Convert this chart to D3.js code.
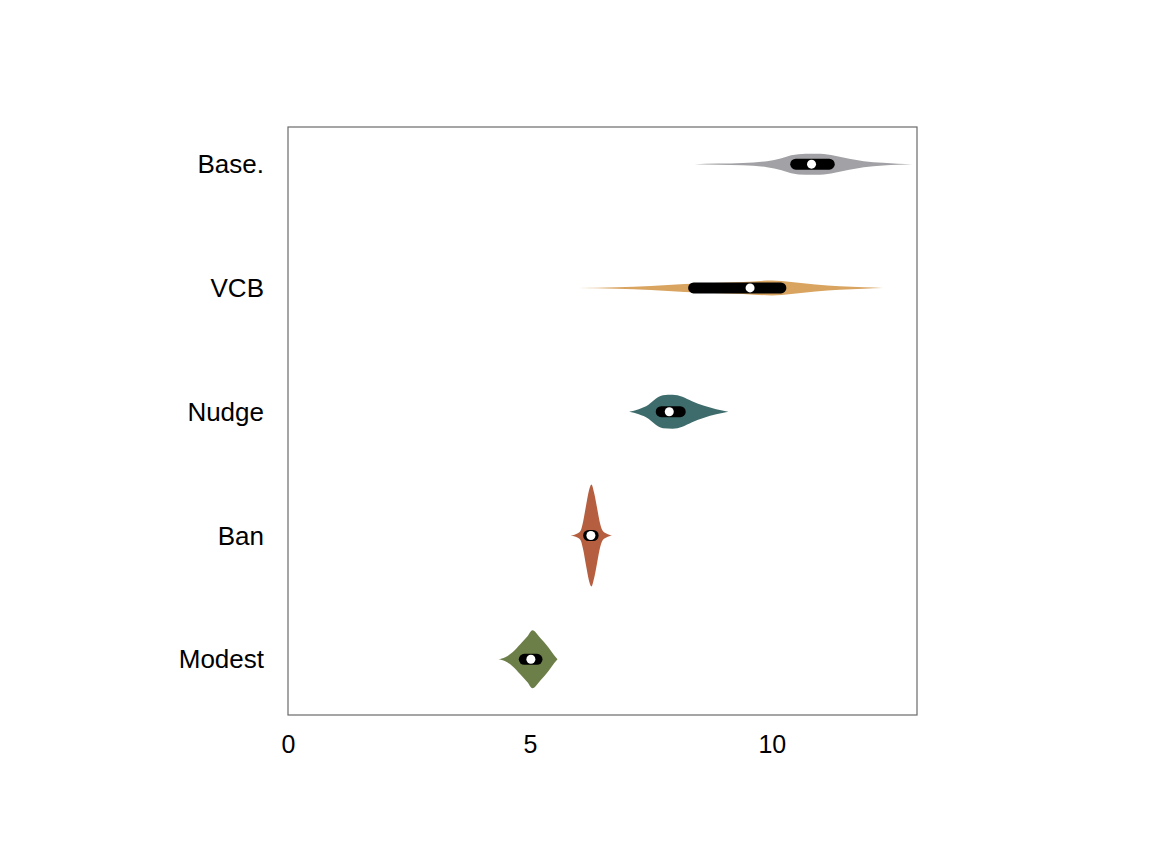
<!DOCTYPE html>
<html><head><meta charset="utf-8">
<script src="https://cdn.jsdelivr.net/npm/d3@7"></script>
<style>html,body{margin:0;padding:0;background:#fff;}svg{display:block;}</style>
</head><body>
<svg id="chart" width="1152" height="866"></svg>
<script>
// ---- data ----
const categories = ["Base.", "VCB", "Nudge", "Ban", "Modest"];
const colors = ["#a2a2a6", "#d8a460", "#3e6c6c", "#b65f40", "#6d7f49"];
const xTicks = [0, 5, 10];
// violin profiles: [value, density]
const densBase = [[8.4,0],[8.9,0.6],[9.4,1.2],[9.9,3],[10.2,6],[10.4,9],[10.7,10.5],[11.0,10.5],[11.3,8.5],[11.6,5.5],[11.9,3],[12.3,1.3],[12.6,0.5],[12.9,0]];
const densVCB  = [[6.0,0],[6.8,0.8],[7.5,2],[8.2,4],[8.8,5],[9.4,6],[10.0,7.5],[10.4,6],[10.9,3.5],[11.4,1.8],[11.9,0.7],[12.3,0]];
const densNudge = [[7.05,0],[7.25,2.5],[7.45,7],[7.6,13],[7.75,16.5],[7.95,17],[8.15,15],[8.35,10.5],[8.6,6],[8.85,2.5],[9.1,0]];
const densBan  = [[5.84,0],[5.98,2],[6.05,5],[6.1,14],[6.16,30],[6.22,45],[6.27,51],[6.33,42],[6.39,27],[6.45,12],[6.5,5],[6.58,2],[6.7,0]];
const densModest = [[4.35,0],[4.49,2],[4.64,7],[4.8,15],[4.95,23],[5.05,29],[5.22,21],[5.38,12],[5.5,4],[5.57,0]];
const densities = [densBase, densVCB, densNudge, densBan, densModest];
const q1 = [10.38, 8.27, 7.6, 6.1, 4.77];
const q3 = [11.3, 10.3, 8.22, 6.42, 5.26];
const medians = [10.82, 9.55, 7.88, 6.26, 5.02];

// ---- layout ----
const plot = {left: 288, right: 917, top: 127, bottom: 715};
const svg = d3.select("#chart");

const x = d3.scaleLinear().domain([0, 13]).range([plot.left, plot.right]);
const yIdx = d3.scaleLinear().domain([-0.3, 4.45]).range([plot.top, plot.bottom]);
const y = c => yIdx(categories.indexOf(c));
const w = d3.scaleLinear().domain([0, 1]).range([0, 1]); // density -> half-width px

// frame
svg.append("rect")
  .attr("x", plot.left).attr("y", plot.top)
  .attr("width", plot.right - plot.left).attr("height", plot.bottom - plot.top)
  .attr("fill", "none").attr("stroke", "#6a6a6a").attr("stroke-width", 1.2);

// violins
categories.forEach((c, i) => {
  const cy = y(c);
  const area = d3.area()
    .x(d => x(d[0]))
    .y0(d => cy - w(d[1]))
    .y1(d => cy + w(d[1]))
    .curve(d3.curveMonotoneX);
  svg.append("path").datum(densities[i])
    .attr("d", area).attr("fill", colors[i]);
  svg.append("rect")
    .attr("x", x(q1[i])).attr("y", cy - 5.5)
    .attr("width", x(q3[i]) - x(q1[i])).attr("height", 11)
    .attr("rx", 5.5).attr("fill", "#000");
  svg.append("circle")
    .attr("cx", x(medians[i])).attr("cy", cy).attr("r", 4.5)
    .attr("fill", "#fff");
});

// y labels
svg.append("g").selectAll("text").data(categories).join("text")
  .attr("x", plot.left - 24).attr("y", d => y(d))
  .attr("dy", "0.35em").attr("text-anchor", "end")
  .attr("font-family", "Liberation Sans, Arial, sans-serif")
  .attr("font-size", 26).attr("fill", "#000")
  .text(d => d);

// x axis (labels only)
const xAxis = d3.axisBottom(x).tickValues(xTicks).tickSize(0).tickPadding(20);
const gx = svg.append("g").attr("transform", `translate(0,${plot.bottom})`).call(xAxis);
gx.select(".domain").remove();
gx.selectAll("text")
  .attr("font-family", "Liberation Sans, Arial, sans-serif")
  .attr("font-size", 25).attr("fill", "#000");
</script>
</body></html>
